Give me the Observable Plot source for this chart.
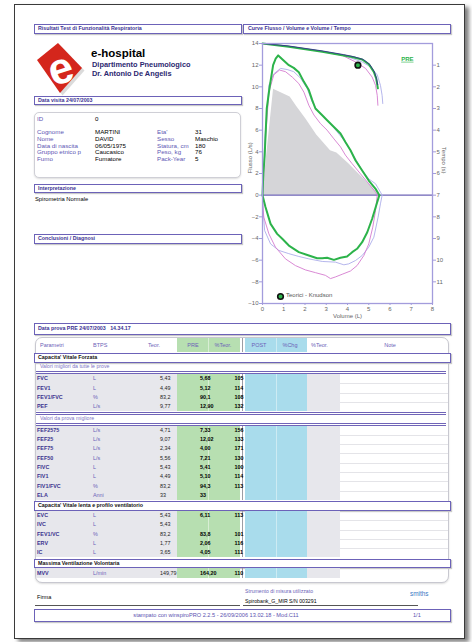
<!DOCTYPE html>
<html><head><meta charset="utf-8">
<script src="https://cdn.jsdelivr.net/npm/d3@7"></script>
<script src="https://cdn.jsdelivr.net/npm/@observablehq/plot@0.6"></script>
<style>
html,body{margin:0;padding:0;background:#fff;}
#page{position:relative;width:472px;height:642px;overflow:hidden;font-family:"Liberation Sans",Arial,sans-serif;}
#page div{position:absolute;box-sizing:border-box;white-space:pre;}
</style></head><body><div id="page"></div>
<script>
// ---------- chart data ----------
const volTicks = [0,1,2,3,4,5,6,7,8];
const flowTicks = [-10,-8,-6,-4,-2,0,2,4,6,8,10,12,14];
const timeTicks = [1,2,3,4,5,6,7,8,9,10,11];
const timeZeroFlow = 14;      // time axis: 0 s sits at flow 14
const flowPerSecond = 2;      // 1 s spans 2 flow units

// predicted (Knudson) flow-volume, [volume L, flow L/s]
const predictedFV = [[0,0],[0.52,9.77],[1.3,9.07],[1.6,8.2],[2.05,7.0],[2.55,5.56],[3.2,4.1],[3.5,3.9],[4.06,2.9],[4.69,1.66],[5.16,0.74],[5.43,0]];
// predicted FEV1 at 1 s
const predictedPoint = [{v:4.49, t:1}];

// PRE best trial (green)
const greenExp = [[0,0],[0.04,2],[0.1,3.6],[0.2,8.0],[0.33,9.9],[0.5,12.0],[0.62,12.6],[0.74,12.9],[0.93,12.55],[1.24,12.0],[1.47,11.75],[1.71,11.35],[1.95,10.46],[2.18,9.7],[2.34,8.77],[2.49,8.0],[2.81,7.38],[3.04,6.92],[3.36,6.3],[3.67,5.7],[3.9,4.9],[4.14,4.15],[4.38,3.2],[4.69,2.28],[5.0,1.35],[5.32,0.58],[5.5,0]];
const greenInsp = [[0,0],[0.14,-1.1],[0.38,-2.65],[0.69,-3.57],[0.93,-4.03],[1.24,-4.65],[1.71,-5.26],[2.18,-5.57],[2.57,-5.82],[2.81,-5.82],[3.04,-5.78],[3.36,-5.97],[3.67,-5.78],[3.98,-5.66],[4.22,-5.26],[4.45,-4.95],[4.69,-4.34],[4.93,-3.42],[5.16,-2.18],[5.35,-0.95],[5.5,0]];
// other trials
const pinkExp = [[0,0],[0.06,2],[0.14,5.2],[0.3,9.5],[0.53,11.1],[0.8,11.55],[1.08,11.4],[1.4,10.9],[1.71,10.3],[1.95,9.5],[2.18,8.3],[2.42,7.4],[2.73,6.6],[3.04,6.0],[3.36,5.2],[3.67,4.46],[3.9,3.7],[4.22,2.9],[4.61,1.97],[5.0,1.05],[5.32,0.28],[5.4,0]];
const pinkInsp = [[0,0],[0.02,-1],[0.06,-2.03],[0.3,-3.57],[0.61,-4.8],[1.08,-5.88],[1.55,-6.5],[2.02,-6.9],[2.49,-7.15],[2.96,-7.4],[3.2,-7.7],[3.43,-7.55],[3.75,-7.3],[4.14,-7.0],[4.45,-6.5],[4.77,-5.57],[5.0,-4.5],[5.19,-2.95],[5.32,-1.4],[5.4,0]];
const lavExp = [[0,0],[0.04,2],[0.11,5.2],[0.3,10.15],[0.53,11.2],[0.85,11.7],[1.16,11.6],[1.47,11.4],[1.79,10.8],[2.1,9.85],[2.34,8.6],[2.57,7.85],[2.89,7.2],[3.2,6.6],[3.51,5.85],[3.83,5.08],[4.14,4.15],[4.3,3.6],[4.69,2.28],[5.0,1.5],[5.32,1.05],[5.55,0.28],[5.63,0]];
const lavInsp = [[0,0],[0.03,-1.4],[0.1,-3.26],[0.38,-4.5],[0.77,-5.1],[1.24,-5.4],[1.71,-5.66],[2.18,-5.88],[2.81,-6.12],[3.43,-6.18],[3.83,-6.43],[4.06,-6.34],[4.38,-6.03],[4.69,-5.57],[5.0,-4.8],[5.24,-3.88],[5.44,-2.03],[5.55,-0.8],[5.63,0]];
// volume-time curves, [volume L, time s]
const greenVT = [[0,0],[1.24,0.15],[2.81,0.38],[3.75,0.54],[4.22,0.62],[4.69,0.74],[5.0,0.95],[5.24,1.31],[5.35,1.61],[5.43,2.07]];
const navyVT = [[0,0],[1.2,0.11],[2.8,0.34],[3.8,0.51],[4.3,0.61],[4.75,0.74],[5.05,0.97],[5.26,1.3],[5.36,1.6],[5.42,1.9]];
const pinkVT = [[0,0],[1.2,0.14],[2.8,0.37],[3.75,0.55],[4.38,0.85],[4.85,1.15],[5.16,1.55],[5.32,1.93],[5.4,2.4],[5.43,2.85]];
const lavVT = [[0,0],[1.2,0.13],[2.8,0.36],[3.75,0.53],[4.69,0.85],[5.08,1.08],[5.4,1.45],[5.55,1.93],[5.63,2.4],[5.66,2.77]];

// ---------- report data ----------
const patientLeftLabels = ["Cognome","Nome","Data di nascita","Gruppo etnico p","Fumo"];
const patientLeftValues = ["MARTINI","DAVID","06/05/1975","Caucasico","Fumatore"];
const patientRightLabels = ["Eta'","Sesso","Statura, cm","Peso, kg","Pack-Year"];
const patientRightValues = ["31","Maschio","180","76","5"];

const tableHeaders = ["Parametri","BTPS","Teor.","PRE","%Teor.","POST","%Chg","%Teor.","Note"];
const groupAParams = ["FVC","FEV1","FEV1/FVC","PEF"];
const groupAUnits  = ["L","L","%","L/s"];
const groupATeor   = ["5,43","4,49","83,2","9,77"];
const groupAPre    = ["5,68","5,12","90,1","12,90"];
const groupAPct    = ["105","114","108","132"];
const groupBParams = ["FEF2575","FEF25","FEF75","FEF50","FIVC","FIV1","FIV1/FVC","ELA"];
const groupBUnits  = ["L/s","L/s","L/s","L/s","L","L","%","Anni"];
const groupBTeor   = ["4,71","9,07","2,34","5,56","5,43","4,49","83,2","33"];
const groupBPre    = ["7,33","12,02","4,00","7,21","5,41","5,10","94,3","33"];
const groupBPct    = ["156","133","171","130","100","114","113",""];
const groupCParams = ["EVC","IVC","FEV1/VC","ERV","IC"];
const groupCUnits  = ["L","L","%","L","L"];
const groupCTeor   = ["5,43","5,43","83,2","1,77","3,65"];
const groupCPre    = ["6,11","","83,8","2,06","4,05"];
const groupCPct    = ["113","","101","116","111"];
const groupDParams = ["MVV"];
const groupDUnits  = ["L/min"];
const groupDTeor   = ["149,79"];
const groupDPre    = ["164,20"];
const groupDPct    = ["110"];

// ---------- page ----------
const page = document.getElementById("page");
function add(css, text) {
  const d = document.createElement("div");
  d.style.cssText = css;
  if (text != null) d.textContent = text;
  page.appendChild(d);
  return d;
}
function txt(x, yc, s, o = {}) {
  const size = o.size || 5.5;
  const h = size * 2;
  let pos;
  if (o.align === "right") pos = `left:${x-120}px;width:120px;text-align:right;`;
  else if (o.align === "center") pos = `left:${x-100}px;width:200px;text-align:center;`;
  else pos = `left:${x}px;`;
  return add(`${pos}top:${yc - h/2}px;height:${h}px;line-height:${h}px;font-size:${size}px;color:${o.color||"#000"};font-weight:${o.bold?"bold":"normal"};`, s);
}
const purple = "#6c62b8";
function hbox(l, t, w, h, text, extra = "") {
  add(`left:${l}px;top:${t}px;width:${w}px;height:${h}px;border:1.3px solid ${purple};background:#fff;box-shadow:1px 1px 1px #c9c9c9;font-weight:bold;font-size:5.3px;line-height:${h-2.6}px;color:#3c3394;padding-left:3px;${extra}`, text);
}

// page sheet
add(`left:14px;top:4px;width:451px;height:635px;border:1px solid #3a3a3a;box-shadow:4px 3px 4px rgba(0,0,0,0.5);background:#fff;`);

hbox(34, 24, 208, 10, "Risultati Test di Funzionalità Respiratoria");
hbox(243, 24, 208, 10, "Curve Flusso / Volume e Volume / Tempo", "padding-left:4px;");

// logo
const logo = add(`left:35px;top:41px;width:52px;height:56px;`);
logo.innerHTML = `<svg width="52" height="56" viewBox="0 0 52 56">
<polygon points="24,3 48,28 26,53 3,20" fill="#999" opacity="0.35" transform="translate(1.5,1.5)"/>
<polygon points="23,2 47,27 25,52 2,19" fill="#d4261c"/>
<text x="25" y="27" transform="rotate(-18 25 27)" font-family="Liberation Sans, Arial" font-weight="bold" font-size="44" fill="#fff" text-anchor="middle" dominant-baseline="central">e</text></svg>`;
txt(91, 53, "e-hospital", {size: 11.5, bold: true});
txt(92, 65.5, "Dipartimento Pneumologico", {size: 7.4, bold: true, color: "#2c2870"});
txt(92, 74, "Dr. Antonio De Angelis", {size: 7.4, bold: true, color: "#2c2870"});

hbox(34, 96, 208, 9, "Data visita 24/07/2003");

// patient box
add(`left:34px;top:112px;width:207px;height:66px;border:1px solid #cfcfd6;border-radius:5px;box-shadow:0 1px 2px #ddd;background:#fff;`);
const labC = "#5d56b4";
txt(37, 119, "ID", {size: 6.2, color: labC});
txt(95, 119, "0", {size: 6.2});
patientLeftLabels.forEach((s, i) => {
  const y = 132.5 + i * 6.6;
  txt(37, y, s, {size: 6.2, color: labC});
  txt(95, y, patientLeftValues[i], {size: 6.2});
  txt(157, y, patientRightLabels[i], {size: 6.2, color: labC});
  txt(195, y, patientRightValues[i], {size: 6.2});
});

hbox(34, 184, 208, 9, "Interpretazione");
txt(35, 200, "Spirometria Normale", {size: 5.8});
hbox(34, 234, 208, 10, "Conclusioni / Diagnosi");

// ---------- table ----------
hbox(34, 323, 417, 12, "Data prova PRE 24/07/2003   14.34.17");
add(`left:35px;top:337px;width:414px;height:246px;border:1px solid #c8c8d0;border-radius:7px;background:#fff;box-shadow:0 1px 2px #ddd;`);
const Z = {L:36, g0:177, g1:208, g2:240, b0:245, b1:276, b2:307, y2:340, R:448};
const cGray = "#e7e7ec", cGreen = "#b7dfb1", cBlue = "#a9dcec";
function bands(top, h, header) {
  if (!header) add(`left:${Z.L}px;top:${top}px;width:${Z.g0-Z.L}px;height:${h}px;background:${cGray};`);
  add(`left:${Z.g0}px;top:${top}px;width:${Z.g2-Z.g0}px;height:${h}px;background:${cGreen};`);
  add(`left:${Z.g1}px;top:${top}px;width:0.6px;height:${h}px;background:#d8eed4;`);
  add(`left:${Z.b0}px;top:${top}px;width:${Z.b2-Z.b0}px;height:${h}px;background:${cBlue};`);
  add(`left:${Z.b1}px;top:${top}px;width:0.6px;height:${h}px;background:#cdebf3;`);
  if (!header) add(`left:${Z.b2}px;top:${top}px;width:${Z.y2-Z.b2}px;height:${h}px;background:${cGray};`);
  add(`left:241.5px;top:${top}px;width:1px;height:${h}px;background:#9c9ca4;`);
}
// header row
bands(338, 14, true);
const hc = "#6c62b8";
txt(40, 345, tableHeaders[0], {color: hc});
txt(93, 345, tableHeaders[1], {color: hc});
txt(160, 345, tableHeaders[2], {color: hc, align: "right"});
txt(193, 345, tableHeaders[3], {color: hc, align: "center"});
txt(223, 345, tableHeaders[4], {color: hc, align: "center"});
txt(259, 345, tableHeaders[5], {color: hc, align: "center"});
txt(290, 345, tableHeaders[6], {color: hc, align: "center"});
txt(311, 345, tableHeaders[7], {color: hc});
txt(390, 345, tableHeaders[8], {color: hc, align: "center"});

const rowH = 9.3;
function group(top, params, units, teor, pre, pct) {
  const h = params.length * rowH;
  bands(top, h, false);
  params.forEach((p, i) => {
    const yc = top + rowH * (i + 0.5);
    if (i > 0) add(`left:${Z.y2}px;top:${top + rowH*i}px;width:${Z.R-Z.y2}px;height:0.6px;background:#e4e4e8;`);
    txt(37, yc, p, {bold: true, color: "#3b338f", size: 5.4});
    txt(93, yc, units[i], {color: "#6c62b8", size: 5.4});
    txt(160, yc, teor[i], {size: 5.4, color: "#222"});
    txt(200, yc, pre[i], {size: 5.4, bold: true});
    txt(234.5, yc, pct[i], {size: 5.4, bold: true});
  });
  return top + h;
}
function dline(y) {
  add(`left:36px;top:${y}px;width:410px;height:3px;border-top:1px solid #7064b8;border-bottom:1px solid #7064b8;`);
}
hbox(34, 353, 417, 9.5, "Capacita' Vitale Forzata", "color:#111;");
txt(40, 366.5, "Valori migliori da tutte le prove", {size: 5.2, color: "#7d74c4"});
dline(371);
let y = group(374, groupAParams, groupAUnits, groupATeor, groupAPre, groupAPct);
dline(y + 0.3);
txt(40, y + 7.3, "Valori da prova migliore", {size: 5.2, color: "#7d74c4"});
dline(y + 11.3);
y = group(y + 14.3, groupBParams, groupBUnits, groupBTeor, groupBPre, groupBPct);
hbox(34, y + 1.2, 417, 9.5, "Capacita' Vitale lenta e profilo ventilatorio", "color:#111;");
y = group(y + 11, groupCParams, groupCUnits, groupCTeor, groupCPre, groupCPct);
hbox(34, y + 1.2, 417, 9.5, "Massima Ventilazione Volontaria", "color:#111;");
y = group(y + 11, groupDParams, groupDUnits, groupDTeor, groupDPre, groupDPct);

// ---------- footer ----------
txt(245, 591, "Strumento di misura utilizzato", {size: 5.2, color: "#6c62b8"});
txt(37, 598, "Firma", {size: 5.6});
txt(245, 601, "Spirobank_G_MIR S/N 003291", {size: 5.2});
txt(410, 594.5, "smiths", {size: 6.4, color: "#3a78c4"});
add(`left:35px;top:605px;width:205px;height:0.8px;background:#555;`);
add(`left:243px;top:605px;width:175px;height:0.8px;background:#555;`);
hbox(34, 609, 417, 13, "", "");
txt(216, 615.5, "stampato con winspiroPRO 2.2.5 - 26/09/2006 13.02.18 - Mod.C11", {size: 5.6, color: "#5a52b0", align: "center"});
txt(413, 615.5, "1/1", {size: 5.6, color: "#5a52b0"});

// ---------- chart ----------
const cGreenLine = "#2cb34a", cPink = "#d57ccf", cLav = "#adaeea", cNavy = "#37318a";
const axisColor = "#a39cdc", zeroColor = "#6c63b6", tickText = "#666";
const fv = (arr, s) => arr.map(([v, f]) => ({v, f, s}));
const vt = (arr, s) => arr.map(([v, t]) => ({v, f: timeZeroFlow - flowPerSecond * t, s}));

const chart = Plot.plot({
  width: 226, height: 286,
  marginLeft: 26, marginRight: 30, marginTop: 7, marginBottom: 19,
  x: {domain: [0, 8], label: null},
  y: {domain: [-10, 14], label: null},
  style: {background: "transparent", fontFamily: "Liberation Sans, Arial, sans-serif", fontSize: "6px", overflow: "visible"},
  marks: [
    Plot.areaY(fv(predictedFV, "pred"), {x: "v", y: "f", fill: "#d5d5d8"}),
    Plot.ruleY([0], {stroke: zeroColor, strokeWidth: 1.1}),
    Plot.line([...fv(lavExp, "e"), ...fv(lavInsp, "i"), ...vt(lavVT, "t")], {x: "v", y: "f", z: "s", stroke: cLav, strokeWidth: 0.9}),
    Plot.line([...fv(pinkExp, "e"), ...fv(pinkInsp, "i"), ...vt(pinkVT, "t")], {x: "v", y: "f", z: "s", stroke: cPink, strokeWidth: 0.9}),
    Plot.line([...fv(greenExp, "e"), ...fv(greenInsp, "i"), ...vt(greenVT, "t")], {x: "v", y: "f", z: "s", stroke: cGreenLine, strokeWidth: 2}),
    Plot.line(vt(navyVT, "t"), {x: "v", y: "f", stroke: cNavy, strokeWidth: 0.9}),
    Plot.frame({stroke: axisColor, strokeWidth: 1.3}),
    Plot.axisY(flowTicks, {anchor: "left", tickSize: 3, tickPadding: 1, stroke: axisColor, fill: tickText, label: null}),
    Plot.axisY(timeTicks.map(t => timeZeroFlow - flowPerSecond * t), {anchor: "right", tickSize: 3, tickPadding: 1, stroke: axisColor, fill: tickText, label: null, tickFormat: f => String((timeZeroFlow - f) / flowPerSecond)}),
    Plot.axisX(volTicks, {anchor: "bottom", tickSize: 2, tickPadding: 1, stroke: axisColor, fill: tickText, label: null}),
    Plot.text(["Flusso (L/s)"], {frameAnchor: "left", rotate: -90, dx: -12, fill: tickText, fontSize: 6}),
    Plot.text(["Tempo (s)"], {frameAnchor: "right", rotate: 90, dx: 11, fill: tickText, fontSize: 6}),
    Plot.text(["Volume (L)"], {frameAnchor: "bottom", dy: 14.5, fill: tickText, fontSize: 6}),
    Plot.dot(predictedPoint, {x: "v", y: d => timeZeroFlow - flowPerSecond * d.t, r: 2.8, fill: cGreenLine, stroke: "#111", strokeWidth: 1.6}),
    Plot.text(["PRE"], {frameAnchor: "top-right", dx: -19, dy: 13, fill: cGreenLine, fontWeight: "bold", fontSize: 6}),
    Plot.dot([0], {frameAnchor: "bottom-left", dx: 18, dy: -7, r: 2.8, fill: cGreenLine, stroke: "#111", strokeWidth: 1.6}),
    Plot.text(["Teorici - Knudson"], {frameAnchor: "bottom-left", dx: 23.5, dy: -7, textAnchor: "start", fill: "#555", fontSize: 6})
  ]
});
chart.querySelectorAll("text").forEach(t => { if (t.textContent === "PRE") t.setAttribute("text-decoration", "underline"); });
const holder = add(`left:236px;top:36px;width:226px;height:286px;`);
holder.appendChild(chart);
</script></body></html>
